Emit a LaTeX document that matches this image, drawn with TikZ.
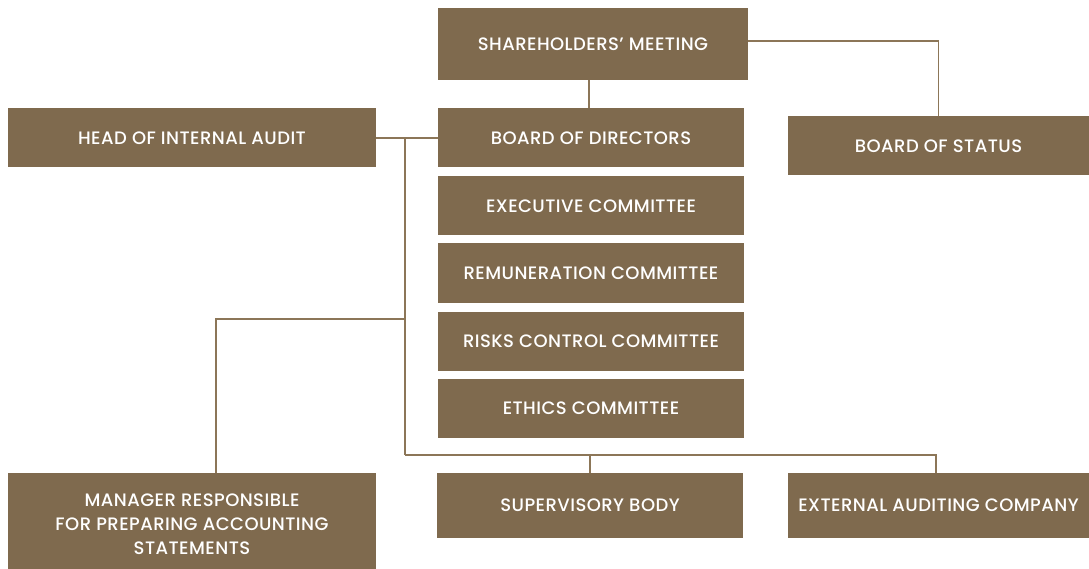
\documentclass[tikz,border=0pt]{standalone}
\usepackage{fontspec}
\setmainfont{Poppins}[LetterSpace=2.5, BoldFont={* Medium}]
\definecolor{boxbrown}{HTML}{7F6A4E}
\definecolor{linebrown}{HTML}{8C7658}
\begin{document}
\begin{tikzpicture}[x=1pt,y=-1pt,
  box/.style={fill=boxbrown, draw=none, inner sep=0pt, outer sep=0pt, text=white,
    font=\fontsize{18}{24}\selectfont\bfseries, align=center},
  boxtext/.style={text=white, inner sep=0pt, font=\fontsize{18}{24}\selectfont\bfseries, align=center},
  conn/.style={draw=linebrown, line width=1.6pt}]
\useasboundingbox (0,0) rectangle (1089,569);
\node[box, minimum width=310pt, minimum height=72pt] (sm) at (593,44) {SHAREHOLDERS' MEETING};
\node[box, minimum width=306pt, minimum height=59pt] (bod) at (591,138) {BOARD OF DIRECTORS};
\node[box, minimum width=368pt, minimum height=59pt] (hia) at (192,138) {HEAD OF INTERNAL AUDIT};
\node[box, minimum width=301pt, minimum height=59pt] (bos) at (938.5,146) {BOARD OF STATUS};
\node[box, minimum width=306pt, minimum height=59pt] (exc) at (591,206) {EXECUTIVE COMMITTEE};
\node[box, minimum width=306pt, minimum height=59pt] (rem) at (591,273) {REMUNERATION COMMITTEE};
\node[box, minimum width=306pt, minimum height=59pt] (rcc) at (591,341) {RISKS CONTROL COMMITTEE};
\node[box, minimum width=306pt, minimum height=59pt] (eth) at (591,408) {ETHICS COMMITTEE};
\node[box, minimum width=368pt, minimum height=96pt] (mgr) at (192,521) {};
\node[boxtext] (mgrtext) at (192,524) {MANAGER RESPONSIBLE\\FOR PREPARING ACCOUNTING\\STATEMENTS};
\node[box, minimum width=306pt, minimum height=65pt] (sup) at (590,505.5) {SUPERVISORY BODY};
\node[box, minimum width=301pt, minimum height=65pt] (ext) at (938.5,505.5) {EXTERNAL AUDITING COMPANY};
\coordinate (j1) at (405,138);
\coordinate (j2) at (405,319);
\coordinate (j3) at (405,455);
\draw[conn] ([xshift=-4pt]sm.south) -- ([xshift=-2pt]bod.north);
\draw[conn] ([yshift=3pt]sm.east) -| (bos.north);
\draw[conn] (hia.east) -- (bod.west);
\draw[conn] (j1) -- (j3);
\draw[conn] (j2) -| ([xshift=24pt]mgr.north);
\draw[conn] (j3) -| (sup.north);
\draw[conn] (j3) -| ([xshift=-2.5pt]ext.north);
\end{tikzpicture}
\end{document}
